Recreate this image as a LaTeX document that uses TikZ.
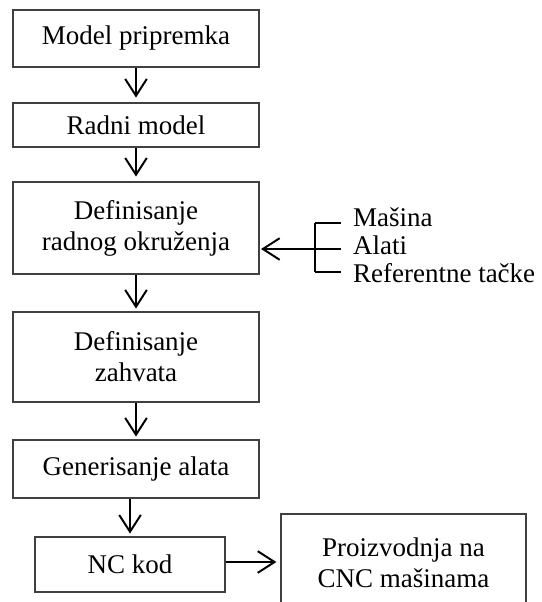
\documentclass[tikz,border=0pt]{standalone}
\usepackage{fontspec}
\setmainfont{Liberation Serif}
\usepackage{tikz}
\usetikzlibrary{arrows.meta,positioning,calc}

\begin{document}
\begin{tikzpicture}[>={Straight Barb[length=0.42cm,width=0.54cm]},
    font=\fontsize{19.2}{22}\selectfont,
    box/.style={draw=black!75, line width=0.9pt, align=center, inner sep=0pt},
    flow/.style={->, line width=1.4pt, shorten >=2pt}]

  \useasboundingbox (0,0) rectangle (13.55,-15.05);

  \node[box, minimum width=6.15cm, minimum height=1.425cm] (pripremak) at (3.4,-0.9625) {Model pripremka};
  \node[box, minimum width=6.15cm, minimum height=1.1cm] (radni) at (3.4,-3.125) {Radni model};
  \node[box, minimum width=6.15cm, minimum height=2.3cm] (okruzenje) at (3.4,-5.7) {Definisanje\\radnog okruženja};
  \node[box, minimum width=6.15cm, minimum height=2.25cm] (zahvat) at (3.4,-8.925) {Definisanje\\zahvata};
  \node[box, minimum width=6.15cm, minimum height=1.45cm] (alat) at (3.4,-11.725) {Generisanje alata};
  \node[box, minimum width=4.75cm, minimum height=1.375cm] (nckod) at (3.25,-14.1125) {NC kod};
  \node[box, minimum width=6.125cm, minimum height=2.45cm] (cnc) at (10.0875,-14.075) {Proizvodnja na\\CNC mašinama};

  % resursi radnog okruzenja
  \node[anchor=west, inner sep=0pt] (masina) at (8.82,-5.42) {Mašina};
  \node[anchor=west, inner sep=0pt] (alati) at (8.82,-6.12) {Alati};
  \node[anchor=west, inner sep=0pt] (tacke) at (8.82,-6.82) {Referentne tačke};
  \coordinate (brtop) at (7.875,-5.575);
  \coordinate (brmid) at (7.875,-6.225);
  \coordinate (brbot) at (7.875,-6.8);
  \draw[line width=1.1pt] (brtop) -- (brbot);
  \draw[line width=1.1pt] (brtop) -- ++(0.65,0);
  \draw[line width=1.1pt] (brmid) -- ++(0.65,0);
  \draw[line width=1.1pt] (brbot) -- ++(0.65,0);
  \draw[flow, shorten >=1pt] (brmid) -- (okruzenje.east |- brmid);

  \draw[flow, shorten >=0.12cm] (pripremak) -- (radni);
  \draw[flow, shorten >=0.12cm] (radni) -- (okruzenje);
  \draw[flow] (okruzenje) -- (zahvat);
  \draw[flow] (zahvat) -- (alat);
  \draw[flow] (nckod.north |- alat.south) -- (nckod.north);
  \draw[flow, shorten >=0.1cm] (nckod.east |- 0,-14.05) -- (cnc.west |- 0,-14.05);
\end{tikzpicture}
\end{document}
